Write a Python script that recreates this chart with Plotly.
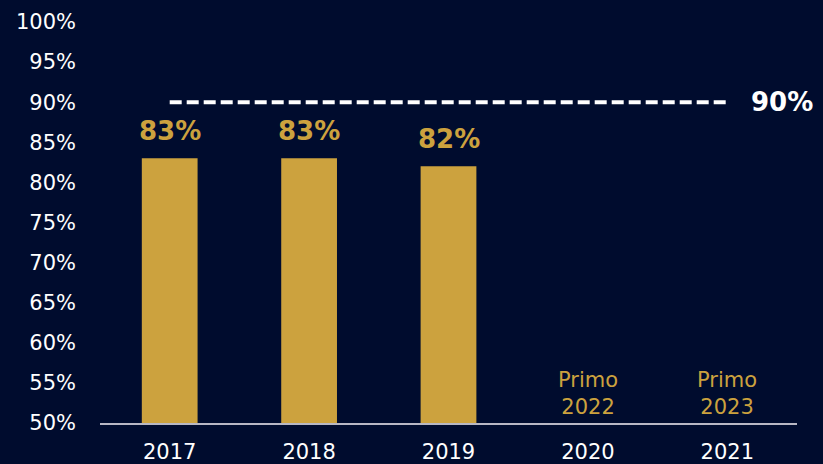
import plotly.graph_objects as go

years = ["2017", "2018", "2019", "2020", "2021"]
values = [83, 83, 82, None, None]
bar_labels = ["83%", "83%", "82%"]
target_value = 90
target_label = "90%"
pending_years = ["2020", "2021"]
pending_labels = ["Primo<br>2022", "Primo<br>2023"]
y_ticks = list(range(50, 101, 5))
y_tick_labels = [f"{t}%" for t in y_ticks]

BG = "#000c2e"
GOLD = "#cca23e"
FONT = "DejaVu Sans"
BOLD_FONT = "DejaVu Sans"

idx = {y: i for i, y in enumerate(years)}

fig = go.Figure()
fig.add_trace(go.Bar(x=years, y=values, width=0.4, marker_color=GOLD,
                     marker_line_width=0, hoverinfo="skip"))
fig.add_trace(go.Scatter(x=[years[0], years[-1]], y=[target_value, target_value],
                         mode="lines", line=dict(color="white", width=4, dash="12px,5px"),
                         hoverinfo="skip"))

for yr, v, lab in zip(years, values, bar_labels):
    fig.add_annotation(x=idx[yr], y=v, text=f"<b>{lab}</b>", showarrow=False,
                       yanchor="bottom", yshift=10,
                       font=dict(family=BOLD_FONT, size=26, color=GOLD))

fig.add_annotation(x=idx[years[-1]], y=target_value, text=f"<b>{target_label}</b>",
                   showarrow=False, xanchor="left", yanchor="middle", xshift=22,
                   font=dict(family=BOLD_FONT, size=26, color="white"))

for yr, lab in zip(pending_years, pending_labels):
    fig.add_annotation(x=idx[yr], y=50, text=lab, showarrow=False, yanchor="bottom",
                       yshift=2, font=dict(family=FONT, size=21, color=GOLD))

fig.update_layout(
    width=823, height=464,
    paper_bgcolor=BG, plot_bgcolor=BG,
    margin=dict(l=100, r=26, t=22, b=41),
    showlegend=False,
    font=dict(family=FONT, color="white", size=21),
)
fig.update_xaxes(type="category", categoryorder="array", categoryarray=years,
                 range=[-0.5, len(years) - 0.5], automargin=False,
                 showgrid=False, showline=True,
                 linecolor="#b8b8c4", linewidth=2, ticks="",
                 tickfont=dict(size=21, color="white"), ticklabelstandoff=9)
fig.update_yaxes(range=[50, 100], showgrid=False, zeroline=False, showline=False,
                 automargin=False,
                 tickvals=y_ticks, ticktext=y_tick_labels,
                 tickfont=dict(size=21, color="white"), ticklabelstandoff=23)

fig.write_html("out.html", config={"displayModeBar": False},
               post_script="document.body.style.margin='0';document.body.style.background='#000c2e';")
